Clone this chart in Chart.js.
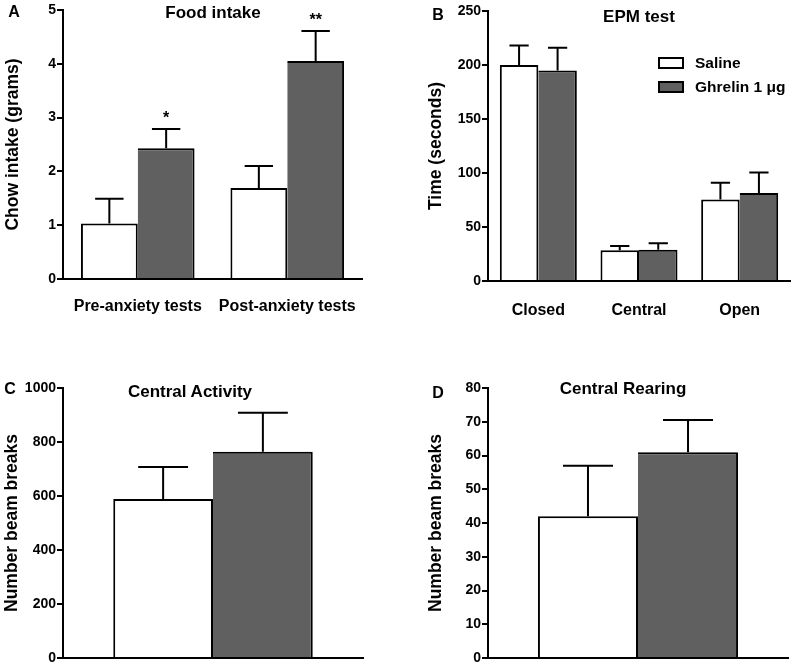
<!DOCTYPE html>
<html>
<head>
<meta charset="utf-8">
<script src="https://cdn.jsdelivr.net/npm/chart.js@4.4.1/dist/chart.umd.min.js"></script>
<style>
  body { margin: 0; background: #fff; }
  #wrap { position: relative; width: 794px; height: 668px; overflow: hidden; font-family: "Liberation Sans", Arial, sans-serif; font-weight: bold; color: #000; }
  canvas { position: absolute; }
  .txt { position: absolute; transform: translate(-50%, -50%); white-space: nowrap; line-height: 1; }
  .leg { position: absolute; font-size: 15.5px; white-space: nowrap; line-height: 1; }
  .box { position: absolute; width: 22px; height: 8px; border: 2px solid #000; }
</style>
</head>
<body>
<div id="wrap">
  <canvas id="chartA" width="397" height="330" style="left:0;top:0"></canvas>
  <canvas id="chartB" width="394" height="330" style="left:400px;top:0"></canvas>
  <canvas id="chartC" width="397" height="338" style="left:0;top:330px"></canvas>
  <canvas id="chartD" width="394" height="338" style="left:400px;top:330px"></canvas>
</div>
<script>
// series names and colours
var seriesNames = ["Saline", "Ghrelin 1 \u03bcg"];
var seriesFill = ["#ffffff", "#606060"];

// A: food intake
var foodCats = ["Pre-anxiety tests", "Post-anxiety tests"];
var foodSaline = [1.03, 1.69];
var foodSalineSem = [0.46, 0.41];
var foodGhrelin = [2.43, 4.05];
var foodGhrelinSem = [0.36, 0.56];
var foodSig = ["*", "**"];
var foodTicks = [0, 1, 2, 3, 4, 5];

// B: EPM test
var epmCats = ["Closed", "Central", "Open"];
var epmSaline = [200, 28.5, 75.5];
var epmSalineSem = [18, 4, 15.5];
var epmGhrelin = [195, 29, 81.5];
var epmGhrelinSem = [21, 6, 19];
var epmTicks = [0, 50, 100, 150, 200, 250];

// C: central activity
var actSaline = [589];
var actSalineSem = [118];
var actGhrelin = [764];
var actGhrelinSem = [144];
var actTicks = [0, 200, 400, 600, 800, 1000];

// D: central rearing
var rearSaline = [42];
var rearSalineSem = [15];
var rearGhrelin = [61];
var rearGhrelinSem = [9.5];
var rearTicks = [0, 10, 20, 30, 40, 50, 60, 70, 80];

var FONT = "'Liberation Sans', Arial, sans-serif";
Chart.defaults.font.family = FONT;
Chart.defaults.font.weight = "bold";
Chart.defaults.color = "#000";

// error bars + significance stars, drawn through the y scale
var errorBars = {
  id: "errorBars",
  afterDatasetsDraw: function (chart, args, opts) {
    var ctx = chart.ctx, y = chart.scales.y;
    chart.data.datasets.forEach(function (ds, i) {
      var meta = chart.getDatasetMeta(i);
      var sem = opts.sem[i], sig = opts.sig ? opts.sig[i] : null;
      meta.data.forEach(function (bar, j) {
        var top = y.getPixelForValue(ds.data[j] + sem[j]);
        var half = bar.width / 4;
        ctx.save();
        ctx.strokeStyle = "#000";
        ctx.lineWidth = 2;
        ctx.beginPath();
        ctx.moveTo(bar.x, bar.y);
        ctx.lineTo(bar.x, top);
        ctx.moveTo(bar.x - half, top);
        ctx.lineTo(bar.x + half, top);
        ctx.stroke();
        if (sig && sig[j]) {
          ctx.fillStyle = "#000";
          ctx.font = "bold 16px " + FONT;
          ctx.textAlign = "center";
          ctx.textBaseline = "alphabetic";
          ctx.fillText(sig[j], bar.x, top - 6);
        }
        ctx.restore();
      });
    });
  }
};

function makeChart(id, cfg) {
  var datasets = [cfg.saline, cfg.ghrelin].map(function (d, i) {
    return {
      label: seriesNames[i],
      data: d,
      backgroundColor: seriesFill[i],
      borderColor: "#000",
      borderWidth: i === 0 ? { left: 2, top: 2, right: 2, bottom: 0 } : { left: 0, top: 2, right: 2, bottom: 0 },
      borderSkipped: false,
      categoryPercentage: cfg.catPct,
      barPercentage: 1.0
    };
  });
  return new Chart(document.getElementById(id), {
    type: "bar",
    data: { labels: cfg.labels, datasets: datasets },
    plugins: [errorBars],
    options: {
      responsive: false,
      animation: false,
      layout: { padding: { top: cfg.top, right: cfg.right, left: 0, bottom: 0 } },
      plugins: {
        legend: { display: false },
        tooltip: { enabled: false },
        errorBars: { sem: cfg.sem, sig: cfg.sig }
      },
      scales: {
        x: {
          grid: { display: true, drawOnChartArea: false, drawTicks: false },
          border: { display: true, color: "#000", width: 2 },
          ticks: { display: cfg.showX, font: { size: 16 }, padding: cfg.xPad, autoSkip: false, maxRotation: 0 },
          afterFit: function (s) { s.height = cfg.xH; }
        },
        y: {
          min: cfg.ticks[0],
          max: cfg.ticks[cfg.ticks.length - 1],
          afterBuildTicks: function (s) { s.ticks = cfg.ticks.map(function (v) { return { value: v }; }); },
          grid: { display: true, drawOnChartArea: false, drawTicks: true, tickLength: 6, color: "#000", lineWidth: 2 },
          border: { display: true, color: "#000", width: 2 },
          ticks: { font: { size: 14 }, padding: 1, callback: function (v) { return String(v); } },
          title: { display: true, text: cfg.yTitle, font: { size: 17.5, weight: "bold" }, padding: { top: cfg.titlePad, bottom: 0 } },
          afterFit: function (s) { s.width = cfg.yW; }
        }
      }
    }
  });
}

makeChart("chartA", {
  labels: foodCats, saline: foodSaline, ghrelin: foodGhrelin,
  sem: [foodSalineSem, foodGhrelinSem], sig: [null, foodSig],
  ticks: foodTicks, yTitle: "Chow intake (grams)",
  catPct: 0.76, top: 10, right: 35, yW: 63, xH: 51, showX: true, xPad: 18, titlePad: 3
});
makeChart("chartB", {
  labels: epmCats, saline: epmSaline, ghrelin: epmGhrelin,
  sem: [epmSalineSem, epmGhrelinSem], sig: null,
  ticks: epmTicks, yTitle: "Time (seconds)",
  catPct: 0.765, top: 11, right: 4, yW: 88, xH: 49, showX: true, xPad: 20, titlePad: 26
});
makeChart("chartC", {
  labels: [""], saline: actSaline, ghrelin: actGhrelin,
  sem: [actSalineSem, actGhrelinSem], sig: null,
  ticks: actTicks, yTitle: "Number beam breaks",
  catPct: 0.665, top: 58, right: 34, yW: 63, xH: 10, showX: false, xPad: 0, titlePad: 2
});
makeChart("chartD", {
  labels: [""], saline: rearSaline, ghrelin: rearGhrelin,
  sem: [rearSalineSem, rearGhrelinSem], sig: null,
  ticks: rearTicks, yTitle: "Number beam breaks",
  catPct: 0.667, top: 58, right: 6, yW: 88, xH: 10, showX: false, xPad: 0, titlePad: 26
});

// panel letters, titles and the legend
var wrap = document.getElementById("wrap");
function addText(text, x, y, size) {
  var d = document.createElement("div");
  d.className = "txt";
  d.textContent = text;
  d.style.left = x + "px";
  d.style.top = y + "px";
  d.style.fontSize = size + "px";
  wrap.appendChild(d);
}
var panelLetters = ["A", "B", "C", "D"];
var panelTitles = ["Food intake", "EPM test", "Central Activity", "Central Rearing"];
var letterPos = [[14, 12], [438, 15], [10, 389], [438, 393]];
var titlePos = [[213, 12], [639, 16], [190, 391], [623, 388]];
panelLetters.forEach(function (t, i) { addText(t, letterPos[i][0], letterPos[i][1], 16); });
panelTitles.forEach(function (t, i) { addText(t, titlePos[i][0], titlePos[i][1], 17); });

seriesNames.forEach(function (name, i) {
  var b = document.createElement("div");
  b.className = "box";
  b.style.left = "658px";
  b.style.top = (57 + i * 24) + "px";
  b.style.background = seriesFill[i];
  wrap.appendChild(b);
  var l = document.createElement("div");
  l.className = "leg";
  l.textContent = name;
  l.style.left = "695px";
  l.style.top = (55 + i * 24) + "px";
  wrap.appendChild(l);
});
</script>
</body>
</html>
